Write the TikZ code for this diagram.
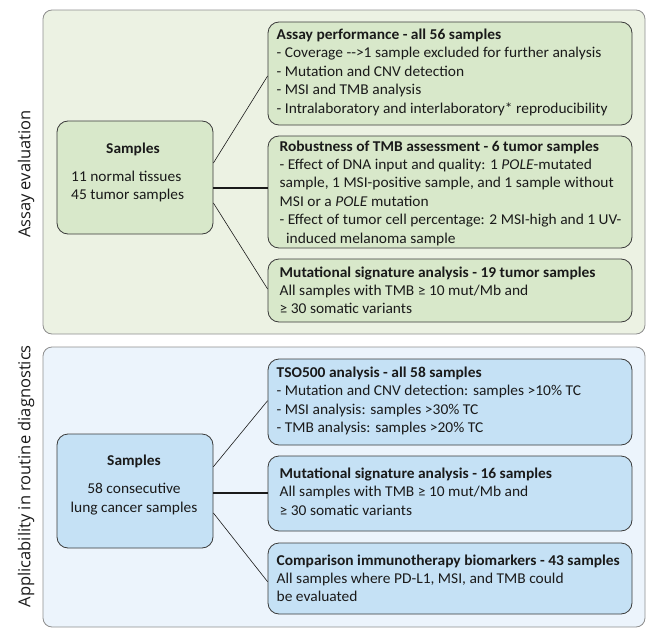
\documentclass[tikz,border=0pt]{standalone}
\usepackage{fontspec}
\setmainfont{Carlito}[FakeStretch=1.03]
\newfontfamily\sidefont{Open Sans}
\usetikzlibrary{calc}
\definecolor{gpanel}{HTML}{ECF2E3}
\definecolor{gbox}{HTML}{D8E8CA}
\definecolor{bpanel}{HTML}{ECF4FC}
\definecolor{bbox}{HTML}{C5E1F5}
\definecolor{edgec}{HTML}{3A3A3A}
\definecolor{panelc}{HTML}{8E8E8E}
\definecolor{txtc}{HTML}{1A1A1A}
\newcommand{\lt}[1]{\begin{tabular}[t]{@{}l@{}}#1\end{tabular}}
\newcommand{\ct}[1]{\begin{tabular}[t]{@{}c@{}}#1\end{tabular}}
\tikzset{
  panel/.style={draw=panelc, line width=0.8pt, rounded corners=9pt, inner sep=0pt},
  boxstyle/.style={draw=edgec, line width=0.8pt, rounded corners=11pt, inner sep=0pt},
  txt/.style={anchor=base west, inner sep=0pt, text=txtc, font=\fontsize{15}{18.4}\selectfont},
  ctxt/.style={anchor=base, inner sep=0pt, text=txtc, font=\fontsize{15}{19.3}\selectfont},
  sidelabel/.style={rotate=90, inner sep=0pt, text=txtc, font=\sidefont\fontsize{16.5}{20}\selectfont},
  link/.style={draw=txtc, line width=0.6pt},
  thicklink/.style={draw=txtc, line width=1.6pt},
}
\begin{document}
\begin{tikzpicture}[x=1pt,y=-1pt]
\useasboundingbox (0,0) rectangle (646,629);
\clip (0,0) rectangle (646,629);
% panels
\node[panel, fill=gpanel, minimum width=602pt, minimum height=324pt] (gp) at (344,172) {};
\node[panel, fill=bpanel, minimum width=602pt, minimum height=280pt] (bp) at (344,487) {};
\node[sidelabel] (gl) at (26,174) {Assay evaluation};
\node[sidelabel, anchor=east] (bl) at (26,345) {Applicability in routine diagnostics};
% green boxes
\node[boxstyle, fill=gbox, minimum width=156pt, minimum height=113pt] (gs) at (135,177.5) {};
\node[boxstyle, fill=gbox, minimum width=364pt, minimum height=103pt] (g1) at (450,73.5) {};
\node[boxstyle, fill=gbox, minimum width=364pt, minimum height=112pt] (g2) at (450,192) {};
\node[boxstyle, fill=gbox, minimum width=364pt, minimum height=63pt] (g3) at (450,290.5) {};
% blue boxes
\node[boxstyle, fill=bbox, minimum width=156pt, minimum height=114pt] (bs) at (135,491) {};
\node[boxstyle, fill=bbox, minimum width=364pt, minimum height=86pt] (b1) at (450,402) {};
\node[boxstyle, fill=bbox, minimum width=364pt, minimum height=75pt] (b2) at (450,493.5) {};
\node[boxstyle, fill=bbox, minimum width=364pt, minimum height=71pt] (b3) at (450,578.5) {};
% connectors green
\draw[link] ([yshift=14.5pt]gs.east) -- ([yshift=-2.5pt]g1.west);
\draw[thicklink] ([yshift=-10.5pt]gs.east) -- ([yshift=-10.5pt]gs.east -| g2.west);
\draw[link] ([yshift=-25.5pt]gs.east) -- ([yshift=1.5pt]g3.west);
% connectors blue
\draw[link] ([yshift=24.3pt]bs.east) -- ([yshift=1.3pt]b1.west);
\draw[thicklink] ([yshift=-1.7pt]bs.east) -- ([yshift=-1.7pt]bs.east -| b2.west);
\draw[link] ([yshift=-22pt]bs.east) -- ([yshift=-3.2pt]b3.west);
% texts green
\node[ctxt] (gst) at (133,153.5) {\textbf{Samples}};
\node[txt] (gsl) at (71,181) {\lt{11 normal tissues\\45 tumor samples}};
\node[txt] (g1t) at (276.5,39.5) {\lt{\textbf{Assay performance - all 56 samples}\\
- Coverage -{}-{}>1 sample excluded for further analysis\\
- Mutation and CNV detection\\
- MSI and TMB analysis\\
- Intralaboratory and interlaboratory* reproducibility}};
\node[txt] (g2t) at (279.5,151) {\lt{\textbf{Robustness of TMB assessment - 6 tumor samples}\\
- Effect of DNA input and quality: 1 \textit{POLE}-mutated\\
sample, 1 MSI-positive sample, and 1 sample without\\
MSI or a \textit{POLE} mutation\\
- Effect of tumor cell percentage: 2 MSI-high and 1 UV-\\
\hspace*{6.5pt}induced melanoma sample}};
\node[txt] (g3t) at (279.5,277) {\lt{\textbf{Mutational signature analysis - 19 tumor samples}\\
All samples with TMB ≥ 10 mut/Mb and\\
≥ 30 somatic variants}};
% texts blue
\node[ctxt] (bst) at (134,465.5) {\textbf{Samples}};
\node[ctxt] (bsl) at (134,493.5) {\ct{58 consecutive\\lung cancer samples}};
\node[txt] (b1t) at (276.5,377.5) {\lt{\textbf{TSO500 analysis - all 58 samples}\\
- Mutation and CNV detection: samples >10\% TC\\
- MSI analysis: samples >30\% TC\\
- TMB analysis: samples >20\% TC}};
\node[txt] (b2t) at (279.5,478.5) {\lt{\textbf{Mutational signature analysis - 16 samples}\\
All samples with TMB ≥ 10 mut/Mb and\\
≥ 30 somatic variants}};
\node[txt] (b3t) at (276.5,565) {\lt{\textbf{Comparison immunotherapy biomarkers - 43 samples}\\
All samples where PD-L1, MSI, and TMB could\\
be evaluated}};
\end{tikzpicture}
\end{document}
